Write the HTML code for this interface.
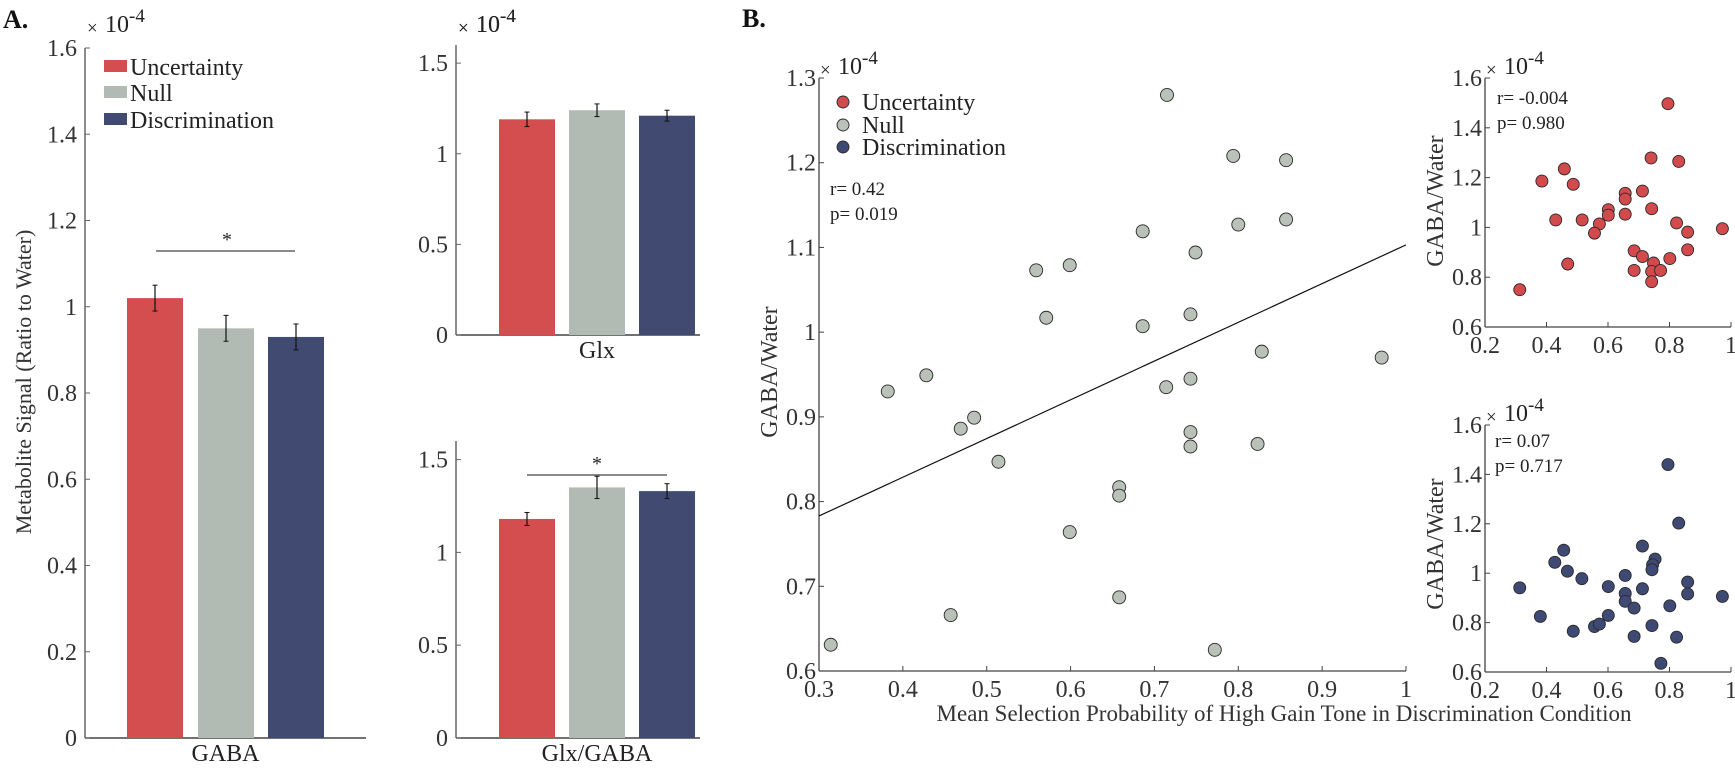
<!DOCTYPE html>
<html><head><meta charset="utf-8"><style>
html,body{margin:0;padding:0;background:#fff;}
svg{display:block;font-family:"Liberation Serif",serif;}
</style></head><body>
<svg id="fig" width="1735" height="769" viewBox="0 0 1735 769" xmlns="http://www.w3.org/2000/svg"></svg>
<script>
// ---------- data ----------
const conds = ['Uncertainty','Null','Discrimination'];
const gabaMeans = [1.02, 0.95, 0.93];
const gabaErr = [0.03, 0.03, 0.03];
const glxMeans = [1.19, 1.24, 1.21];
const glxErr = [0.04, 0.035, 0.03];
const ratioMeans = [1.18, 1.35, 1.33];
const ratioErr = [0.035, 0.06, 0.04];
const gabaTicks = [0,0.2,0.4,0.6,0.8,1,1.2,1.4,1.6];
const glxTicks = [0,0.5,1,1.5];
const mainXTicks = [0.3,0.4,0.5,0.6,0.7,0.8,0.9,1];
const mainYTicks = [0.6,0.7,0.8,0.9,1,1.1,1.2,1.3];
const smallXTicks = [0.2,0.4,0.6,0.8,1];
const smallYTicks = [0.6,0.8,1,1.2,1.4,1.6];
const nullX = [0.715,0.794,0.857,0.686,0.800,0.857,0.749,0.559,0.599,0.571,0.686,0.743,0.828,0.971,0.382,0.428,0.469,0.485,0.714,0.743,0.743,0.743,0.823,0.514,0.658,0.658,0.599,0.457,0.658,0.314,0.772];
const nullY = [1.280,1.208,1.203,1.119,1.127,1.133,1.094,1.073,1.079,1.017,1.007,1.021,0.977,0.970,0.930,0.949,0.886,0.899,0.935,0.945,0.882,0.865,0.868,0.847,0.817,0.807,0.764,0.666,0.687,0.631,0.625];
const fitLine = [[0.3,0.783],[1.0,1.103]];
const uncX = [0.795,0.740,0.830,0.458,0.385,0.487,0.656,0.712,0.656,0.742,0.601,0.601,0.656,0.430,0.516,0.572,0.556,0.823,0.859,0.972,0.685,0.712,0.859,0.801,0.469,0.748,0.685,0.742,0.771,0.742,0.313];
const uncY = [1.497,1.279,1.265,1.235,1.186,1.173,1.137,1.146,1.114,1.075,1.071,1.049,1.053,1.030,1.030,1.014,0.977,1.018,0.981,0.995,0.906,0.883,0.910,0.875,0.853,0.857,0.827,0.823,0.827,0.782,0.750];
const disX = [0.795,0.830,0.712,0.456,0.427,0.468,0.515,0.753,0.745,0.743,0.656,0.313,0.601,0.712,0.859,0.859,0.972,0.656,0.656,0.685,0.801,0.380,0.601,0.556,0.572,0.487,0.743,0.685,0.823,0.772];
const disY = [1.440,1.203,1.110,1.093,1.044,1.008,0.978,1.057,1.034,1.014,0.991,0.941,0.946,0.937,0.964,0.916,0.906,0.918,0.886,0.859,0.868,0.825,0.829,0.784,0.794,0.765,0.788,0.744,0.741,0.635];

// ---------- helpers ----------
const NS='http://www.w3.org/2000/svg';
const svg=document.getElementById('fig');
function mk(tag,attrs,parent){const e=document.createElementNS(NS,tag);for(const k in attrs)e.setAttribute(k,attrs[k]);(parent||svg).appendChild(e);return e;}
function txt(s,x,y,size,anchor,parent,extra,rot){
  const tr='translate('+x+','+y+')'+(rot?' rotate(-90)':'');
  const e=mk('text',Object.assign({x:0,y:0,transform:tr,'font-size':size,'text-anchor':anchor||'start',fill:'#222'},extra||{}),parent);
  e.textContent=s;return e;}
function lin(a,b,c,d){return v=>c+(v-a)*(d-c)/(b-a);}
const colors=['#d44d4f','#b2bbb3','#414a70'];
const mcolors=['#d24a4c','#b9c1b9','#3e4a74'];

function sciLabel(x,y,g){
  txt('\u00d7',x,y+2,19,'start',g);
  txt('10',x+18,y,24,'start',g);
  txt('-4',x+42,y-10,19,'start',g);
}

function barPanel(name,cfg,means,errs,ticks,label){
  const g=mk('g',{});
  
  
  const ys=lin(0,1.6,cfg.y0,cfg.y1);
  mk('line',{x1:cfg.x0,y1:cfg.y0,x2:cfg.x0,y2:ys(1.6),stroke:'#666','stroke-width':1.5},g);
  mk('line',{x1:cfg.x0,y1:cfg.y0,x2:cfg.xEnd,y2:cfg.y0,stroke:'#444','stroke-width':1.5},g);
  ticks.forEach(t=>{
    mk('line',{x1:cfg.x0,y1:ys(t),x2:cfg.x0+5,y2:ys(t),stroke:'#666'},g);
    txt(String(t),cfg.x0-8,ys(t)+8,24,'end',g,{fill:'#333'});
  });
  means.forEach((m,i)=>{
    const bx=cfg.bars[i];
    const r=mk('rect',{x:bx,y:ys(m),width:cfg.bw,height:cfg.y0-ys(m),fill:colors[i]},g);
    
    
    const cx=bx+cfg.bw/2;
    mk('line',{x1:cx,y1:ys(m+errs[i]),x2:cx,y2:ys(m-errs[i]),stroke:'#111','stroke-width':1.2},g);
    mk('line',{x1:cx-2.5,y1:ys(m+errs[i]),x2:cx+2.5,y2:ys(m+errs[i]),stroke:'#111'},g);
    mk('line',{x1:cx-2.5,y1:ys(m-errs[i]),x2:cx+2.5,y2:ys(m-errs[i]),stroke:'#111'},g);
  });
  txt(label,(cfg.bars[0]+cfg.bars[2]+cfg.bw)/2,cfg.y0+23,24,'middle',g);
  sciLabel(cfg.x0+2,32,g);
  return g;
}

// ---------- Panel A ----------
txt('A.',3,28,26,'start',null,{'font-weight':'bold',fill:'#111'});
barPanel('gaba-bar-chart',{x0:85,y0:738,y1:48,xEnd:366,bars:[127,198,268],bw:56},gabaMeans,gabaErr,gabaTicks,'GABA');
mk('line',{x1:156,y1:251,x2:295,y2:251,stroke:'#444','stroke-width':1.3});
txt('*',227,246,20,'middle');
const legA=mk('g',{});


conds.forEach((c,i)=>{
  const y=[66,92,119][i];
  mk('rect',{x:104,y:y-6,width:23,height:12,fill:colors[i]},legA);
  txt(c,130,y+9,24,'start',legA);
});
const ylA=txt('Metabolite Signal (Ratio to Water)',31,382,22,'middle',null,{fill:'#333'},true);



barPanel('glx-bar-chart',{x0:456,y0:335,y1:45,xEnd:700,bars:[499,569,639],bw:56},glxMeans,glxErr,glxTicks,'Glx');
barPanel('glx-gaba-bar-chart',{x0:456,y0:738,y1:441,xEnd:700,bars:[499,569,639],bw:56},ratioMeans,ratioErr,glxTicks,'Glx/GABA');
mk('line',{x1:527,y1:475,x2:667,y2:475,stroke:'#444','stroke-width':1.3});
txt('*',597,470,20,'middle');

// ---------- Panel B ----------
txt('B.',742,27,26,'start',null,{'font-weight':'bold',fill:'#111'});

function scatter(name,cfg,xs,ys,ci,xt,yt,r){
  const g=mk('g',{});
  
  
  const sx=lin(cfg.xmin,cfg.xmax,cfg.x0,cfg.x1);
  const sy=lin(cfg.ymin,cfg.ymax,cfg.y0,cfg.y1);
  mk('line',{x1:cfg.x0,y1:cfg.y0,x2:cfg.x0,y2:cfg.y1,stroke:'#444','stroke-width':1.3},g);
  mk('line',{x1:cfg.x0,y1:cfg.y0,x2:cfg.x1,y2:cfg.y0,stroke:'#444','stroke-width':1.3},g);
  yt.forEach(t=>{
    mk('line',{x1:cfg.x0,y1:sy(t),x2:cfg.x0+5,y2:sy(t),stroke:'#444'},g);
    txt(String(t),cfg.x0-3,sy(t)+8,cfg.fs,'end',g,{fill:'#333'});
  });
  xt.forEach(t=>{
    mk('line',{x1:sx(t),y1:cfg.y0,x2:sx(t),y2:cfg.y0-5,stroke:'#444'},g);
    txt(String(t),sx(t),cfg.y0+26,cfg.fs,'middle',g,{fill:'#333'});
  });
  if(cfg.fit){
    const l=mk('line',{x1:sx(cfg.fit[0][0]),y1:sy(cfg.fit[0][1]),x2:sx(cfg.fit[1][0]),y2:sy(cfg.fit[1][1]),stroke:'#111','stroke-width':1.2},g);
    
    
  }
  xs.forEach((x,i)=>{
    const c=mk('circle',{cx:sx(x),cy:sy(ys[i]),r:r,fill:mcolors[ci],stroke:'#2a2a2a','stroke-width':0.9},g);
    
    
  });
  sciLabel(cfg.x0+1,cfg.y1-4,g);
  return {g,sx,sy};
}

scatter('null-scatter',{x0:819,x1:1406,y0:671,y1:78,xmin:0.3,xmax:1,ymin:0.6,ymax:1.3,fs:24,fit:fitLine},nullX,nullY,1,mainXTicks,mainYTicks,6.5);
const legB=mk('g',{});


conds.forEach((c,i)=>{
  const y=[102,125,147][i];
  mk('circle',{cx:843,cy:y,r:6,fill:mcolors[i],stroke:'#2a2a2a','stroke-width':0.9},legB);
  txt(c,862,y+8,24,'start',legB);
});
txt('r= 0.42',830,195,19);
txt('p= 0.019',830,220,19);
const ylB=txt('GABA/Water',777,372,24,'middle',null,{fill:'#333'},true);


const xlB=txt('Mean Selection Probability of High Gain Tone in Discrimination Condition',1284,721,23,'middle',null,{fill:'#333'});



scatter('uncertainty-scatter',{x0:1485,x1:1731,y0:327,y1:78,xmin:0.2,xmax:1,ymin:0.6,ymax:1.6,fs:24},uncX,uncY,0,smallXTicks,smallYTicks,6);
txt('r= -0.004',1497,104,19);
txt('p= 0.980',1497,129,19);
txt('GABA/Water',1443,201,24,'middle',null,{fill:'#333'},true);

scatter('discrimination-scatter',{x0:1485,x1:1731,y0:672,y1:425,xmin:0.2,xmax:1,ymin:0.6,ymax:1.6,fs:24},disX,disY,2,smallXTicks,smallYTicks,6);
txt('r= 0.07',1495,447,19);
txt('p= 0.717',1495,472,19);
txt('GABA/Water',1443,544,24,'middle',null,{fill:'#333'},true);
</script>
</body></html>
